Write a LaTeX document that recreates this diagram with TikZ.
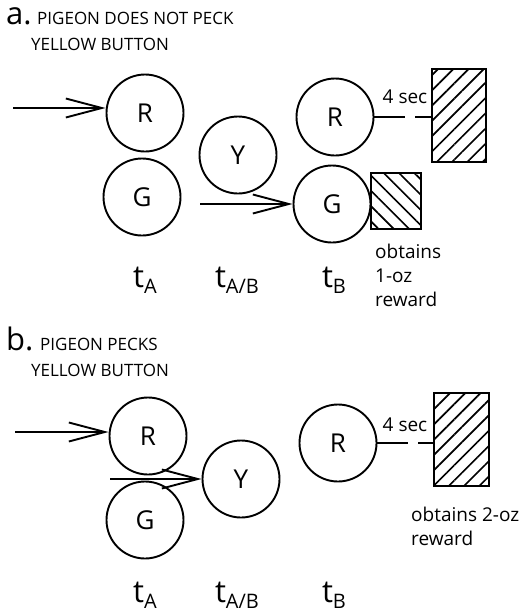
\documentclass[tikz,border=0pt]{standalone}
\usepackage{fontspec}
\setmainfont{Open Sans}
\usetikzlibrary{arrows.meta,positioning,patterns.meta}

\newcommand{\tstep}[1]{{\fontsize{31}{31}\selectfont t}\raisebox{-6pt}{\fontsize{20}{20}\selectfont #1}}

\begin{document}
\begin{tikzpicture}[
    x=1pt, y=-1pt,
    key/.style={draw, circle, line width=1.9pt, minimum size=77pt, inner sep=0pt, font=\fontsize{26}{26}\selectfont},
    arrow/.style={-{Straight Barb[length=36pt, width=19pt, line width=1.9pt]}, line width=1.9pt},
    delay/.style={line width=1.9pt, dash pattern=on 31pt off 10pt},
    food/.style={draw, line width=1.9pt, inner sep=0pt},
    small/.style={font=\fontsize{19}{24}\selectfont, inner sep=0pt},
    head/.style={font=\fontsize{17}{26}\selectfont, inner sep=0pt, anchor=base west}
]
\useasboundingbox (0,0) rectangle (526,614);

% a. pigeon does not peck yellow button
\node[inner sep=0pt, anchor=base west, font=\fontsize{31}{31}\selectfont] (la) at (6,24) {a.};
\node[head] (ha1) at (37,24) {PIGEON DOES NOT PECK};
\node[head] (ha2) at (31,50) {YELLOW BUTTON};

\node[key] (aRA) at (145,113) {R};
\node[key] (aGA) at (142,197) {G};
\node[key] (aY) at (238,155) {Y};
\node[key] (aRB) at (335,117) {R};
\node[key] (aGB) at (332,204) {G};

\node[food, minimum width=54pt, minimum height=93pt,
      pattern={Lines[angle=45, distance=10.8pt, line width=1.7pt]}] (aBig) at (459,115.5) {};
\node[food, minimum width=50pt, minimum height=56pt,
      pattern={Lines[angle=-45, distance=10.8pt, line width=1.7pt]}] (aSmall) at (396,201) {};

\coordinate (inA) at (13,108);
\coordinate (goA) at (200,204);
\draw[arrow] (inA) -- (inA -| aRA.west);
\draw[arrow] (goA) -- (aGB.west);
\draw[delay] (aRB.east) -- (aRB.east -| aBig.west);
\node[small, anchor=base] (secA) at (405,103) {4 sec};
\node[small, anchor=base west, align=left] (rwA) at (375,306) {obtains\\1-oz\\reward};

\node[inner sep=0pt, anchor=base] (taA) at (145,287) {\tstep{A}};
\node[inner sep=0pt, anchor=base] (taAB) at (237,287) {\tstep{A/B}};
\node[inner sep=0pt, anchor=base] (taB) at (334,287) {\tstep{B}};

% b. pigeon pecks yellow button
\node[inner sep=0pt, anchor=base west, font=\fontsize{31}{31}\selectfont] (lb) at (6,350) {b.};
\node[head] (hb1) at (40,350) {PIGEON PECKS};
\node[head] (hb2) at (31,376) {YELLOW BUTTON};

\node[key] (bRA) at (148,436) {R};
\node[key] (bGA) at (145,520) {G};
\node[key] (bY) at (241,479) {Y};
\node[key] (bRB) at (338,443) {R};

\node[food, minimum width=55pt, minimum height=93pt,
      pattern={Lines[angle=45, distance=10.8pt, line width=1.7pt]}] (bBig) at (461.5,439.5) {};

\coordinate (inB) at (15,432);
\coordinate (goB) at (110,479);
\draw[arrow] (inB) -- (inB -| bRA.west);
\draw[arrow] (goB) -- (bY.west);
\draw[delay] (bRB.east) -- (bRB.east -| bBig.west);
\node[small, anchor=base] (secB) at (405,431) {4 sec};
\node[small, anchor=base west, align=left] (rwB) at (411,545) {obtains 2-oz\\reward};

\node[inner sep=0pt, anchor=base] (tbA) at (145,602) {\tstep{A}};
\node[inner sep=0pt, anchor=base] (tbAB) at (237,602) {\tstep{A/B}};
\node[inner sep=0pt, anchor=base] (tbB) at (334,602) {\tstep{B}};
\end{tikzpicture}
\end{document}
